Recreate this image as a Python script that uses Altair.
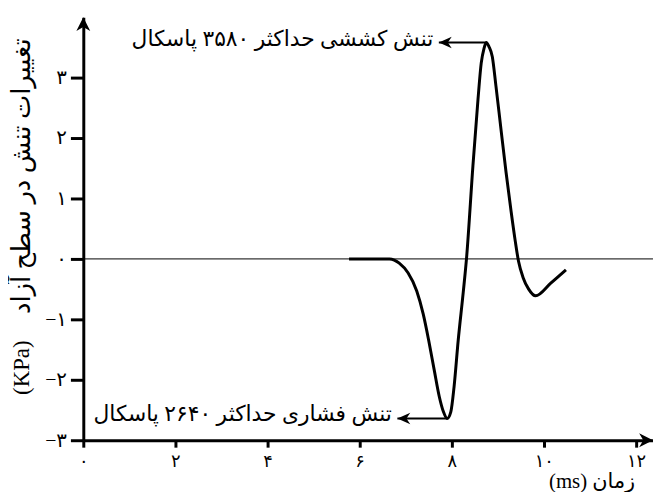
import altair as alt
import pandas as pd

# ---- data ----
time_ms = [5.77, 6.65, 6.86, 7.05, 7.24, 7.38, 7.50, 7.62, 7.73, 7.82, 7.90, 7.98, 8.05,
           8.14, 8.25, 8.32, 8.46, 8.57, 8.64, 8.70, 8.75, 8.81, 8.88, 8.96, 9.07, 9.18,
           9.29, 9.38, 9.45, 9.55, 9.67, 9.82, 10.15, 10.48]
stress_kpa = [0.0, 0.0, -0.07, -0.23, -0.53, -0.91, -1.35, -1.84, -2.28, -2.53, -2.64, -2.53, -2.12,
              -1.35, -0.55, 0.0, 1.54, 2.64, 3.24, 3.48, 3.58, 3.51, 3.35, 2.86, 2.14, 1.43,
              0.78, 0.29, -0.04, -0.31, -0.50, -0.61, -0.40, -0.18]

x_tick_values = [0, 2, 4, 6, 8, 10, 12]
x_tick_labels = ["۰", "۲", "۴", "۶", "۸", "۱۰", "۱۲"]
y_tick_values = [-3, -2, -1, 0, 1, 2, 3]
y_tick_labels = ["−۳", "−۲", "−۱", "۰", "۱", "۲", "۳"]

x_title = "(ms) زمان"
y_title = "تغییرات تنش در سطح آزاد"
y_unit = "(KPa)"
y_unit_pos = [-1.8]

ann_text = ["تنش کششی حداکثر ۳۵۸۰ پاسکال", "تنش فشاری حداکثر ۲۶۴۰ پاسکال"]
ann_peak_t = [8.75, 7.90]
ann_peak_s = [3.58, -2.64]
ann_tip_t = [7.72, 6.82]
ann_text_t = [7.60, 6.70]

x_domain = [0, 12.37]
y_domain = [-3, 4.0]

# ---- chart ----
FONT = "Liberation Serif, DejaVu Sans"
W, H = 575, 427


def label_expr(values, labels):
    expr = "''"
    for v, l in reversed(list(zip(values, labels))):
        expr = f"datum.value == {v} ? '{l}' : ({expr})"
    return expr


xs = alt.Scale(domain=x_domain, nice=False, zero=False)
ys = alt.Scale(domain=y_domain, nice=False, zero=False)

x_axis = alt.Axis(values=x_tick_values, labelExpr=label_expr(x_tick_values, x_tick_labels),
                  grid=False, domainColor="black", domainWidth=3, tickColor="black",
                  tickWidth=3, tickSize=7, labelFont=FONT, labelFontSize=18, labelColor="black",
                  labelPadding=6, title=x_title, titleFont=FONT, titleFontSize=21,
                  titleFontWeight="normal", titleColor="black", titleX=513, titleY=42,
                  titleAlign="center", titleBaseline="middle", labelFlush=False)
y_axis = alt.Axis(values=y_tick_values, labelExpr=label_expr(y_tick_values, y_tick_labels),
                  grid=False, domainColor="black", domainWidth=3, tickColor="black",
                  tickWidth=3, tickSize=13, labelFont=FONT, labelFontSize=20, labelColor="black",
                  labelPadding=4, title=y_title, titleFont=FONT, titleFontSize=26,
                  titleFontWeight="normal", titleColor="black", titleX=-62, titleY=160,
                  titleAngle=270, titleAlign="center", titleBaseline="middle", labelFlush=False)


def X(field="t"):
    return alt.X(f"{field}:Q", scale=xs, axis=x_axis)


def Y(field="s"):
    return alt.Y(f"{field}:Q", scale=ys, axis=y_axis)


curve_df = pd.DataFrame({"t": time_ms, "s": stress_kpa})
ann_df = pd.DataFrame({"t": ann_tip_t, "t2": ann_peak_t, "s": ann_peak_s,
                       "tt": ann_text_t, "label": ann_text})

zero = alt.Chart(pd.DataFrame({"t": [x_domain[0]], "t2": [x_domain[1]], "s": [0]})).mark_rule(
    color="black", strokeWidth=1).encode(x=X(), x2="t2:Q", y=Y())

curve = alt.Chart(curve_df).mark_line(color="black", strokeWidth=3, interpolate="monotone").encode(
    x=X(), y=Y())

leaders = alt.Chart(ann_df).mark_rule(color="black", strokeWidth=2).encode(
    x=X(), x2="t2:Q", y=Y())

left_arrow = "M0,0 L1,-0.45 L0.7,0 L1,0.45 Z"
heads = alt.Chart(ann_df).mark_point(shape=left_arrow, filled=True, opacity=1, color="black",
                                      size=676, strokeWidth=0).encode(x=X(), y=Y())

texts = alt.Chart(ann_df).mark_text(align="right", baseline="middle", font=FONT, fontSize=22,
                                    color="black", dy=-4).encode(
    x=alt.X("tt:Q", scale=xs, axis=x_axis), y=Y(), text="label:N")

unit = alt.Chart(pd.DataFrame({"s": y_unit_pos, "label": [y_unit]})).mark_text(
    angle=270, align="center", baseline="middle", font=FONT, fontSize=23, color="black").encode(
    x=alt.value(-62), y=Y(), text="label:N")

right_arrow = "M0,0 L-1,-0.5 L-0.7,0 L-1,0.5 Z"
up_arrow = "M0,0 L-0.5,1 L0,0.7 L0.5,1 Z"
x_head = alt.Chart(pd.DataFrame({"t": [x_domain[1]], "s": [y_domain[0]]})).mark_point(
    shape=right_arrow, filled=True, opacity=1, color="black", size=784, strokeWidth=0).encode(
    x=X(), y=Y())
y_head = alt.Chart(pd.DataFrame({"t": [x_domain[0]], "s": [y_domain[1]]})).mark_point(
    shape=up_arrow, filled=True, opacity=1, color="black", size=784, strokeWidth=0).encode(
    x=X(), y=Y())

chart = alt.layer(zero, curve, leaders, heads, texts, unit, x_head, y_head).properties(
    width=W, height=H, autosize="none",
    padding={"left": 76, "top": 7, "right": 0, "bottom": 50},
    background="white",
).configure_view(stroke=None)

chart.save("out.html", embed_options={"renderer": "svg", "actions": False})
